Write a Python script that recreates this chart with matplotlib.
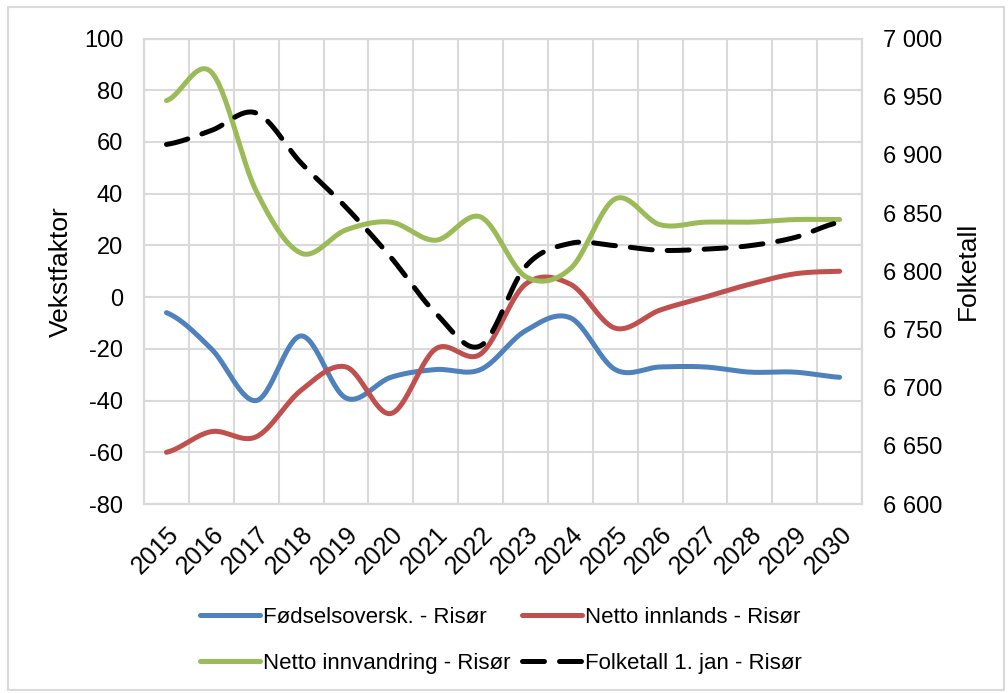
import numpy as np
import matplotlib
matplotlib.use("Agg")
import matplotlib.pyplot as plt
from matplotlib.lines import Line2D
from matplotlib.patches import Rectangle
from matplotlib.ticker import FuncFormatter

years = ["2015", "2016", "2017", "2018", "2019", "2020", "2021", "2022",
         "2023", "2024", "2025", "2026", "2027", "2028", "2029", "2030"]

fodselsoversk = [-6, -20, -40, -15, -39, -31, -28, -28, -13, -8, -28, -27, -27, -29, -29, -31]
netto_innlands = [-60, -52, -54, -36, -27, -45, -20, -22, 5, 5, -12, -5, 0, 5, 9, 10]
netto_innvandring = [76, 87, 41, 17, 26, 29, 22, 31, 8, 11, 38, 28, 29, 29, 30, 30]
folketall = [6909, 6921, 6936, 6893, 6855, 6812, 6764, 6736, 6804, 6824, 6822, 6818, 6819, 6822, 6829, 6842]

BLUE = "#4F81BD"
RED = "#C0504D"
GREEN = "#9BBB59"
GRID = "#D9D9D9"
LW = 3.6
DASH = (4.4, 3.0)


def smooth(y, n=30):
    # Catmull-Rom spline through the points, like Excel's smoothed lines
    y = np.asarray(y, dtype=float)
    p = np.concatenate([[y[0]], y, [y[-1]]])
    xs, ys = [], []
    t = np.linspace(0, 1, n, endpoint=False)
    for i in range(len(y) - 1):
        p0, p1, p2, p3 = p[i], p[i + 1], p[i + 2], p[i + 3]
        seg = 0.5 * ((2 * p1) + (-p0 + p2) * t + (2 * p0 - 5 * p1 + 4 * p2 - p3) * t ** 2
                     + (-p0 + 3 * p1 - 3 * p2 + p3) * t ** 3)
        xs.extend(i + t)
        ys.extend(seg)
    xs.append(len(y) - 1)
    ys.append(y[-1])
    return np.array(xs), np.array(ys)


plt.rcParams['font.family'] = ['Liberation Sans', 'DejaVu Sans']
plt.rcParams['axes.unicode_minus'] = False

fig = plt.figure(figsize=(10.08, 6.93), dpi=100)
fig.patches.append(Rectangle((0.008, 0.004), 0.988, 0.986, transform=fig.transFigure,
                             fill=False, edgecolor=GRID, linewidth=1.5))

ax = fig.add_axes([0.1429, 0.2727, 0.7123, 0.6717])
ax2 = ax.twinx()

x = np.arange(len(years))

for data, color in [(fodselsoversk, BLUE), (netto_innlands, RED), (netto_innvandring, GREEN)]:
    sx, sy = smooth(data)
    ax.plot(sx, sy, color=color, lw=LW, solid_capstyle='round')

sx, sy = smooth(folketall)
ax2.plot(sx, sy, color='black', lw=LW, dashes=DASH, dash_capstyle='round')

ax.set_xlim(-0.5, len(years) - 0.5)
ax.set_ylim(-80, 100)
ax.set_yticks(np.arange(-80, 101, 20))
ax2.set_ylim(6600, 7000)
ax2.set_yticks(np.arange(6600, 7001, 50))
ax2.yaxis.set_major_formatter(FuncFormatter(lambda v, p: f"{int(v):,}".replace(",", " ")))

ax.set_xticks(x)
ax.set_xticklabels(years, rotation=45, ha='right', rotation_mode='anchor')
ax.set_xticks(np.arange(-0.5, len(years), 1), minor=True)
ax.grid(True, which='minor', axis='x', color=GRID, lw=1.5)
ax.grid(True, which='major', axis='y', color=GRID, lw=1.5)
ax.set_axisbelow(True)

for a in (ax, ax2):
    for s in a.spines.values():
        s.set_color(GRID)
        s.set_linewidth(1.5)
    a.tick_params(which='both', length=0, labelsize=17)
ax.tick_params(axis='y', pad=15)
ax.tick_params(axis='x', pad=13, labelsize=18)
ax2.tick_params(axis='y', pad=15)

ax.set_ylabel("Vekstfaktor", fontsize=19, labelpad=8)
ax2.set_ylabel("Folketall", fontsize=19, labelpad=10)

# legend filled column by column, so this order gives the rows of the reference
handles = [
    Line2D([], [], color=BLUE, lw=LW, solid_capstyle='round'),
    Line2D([], [], color=GREEN, lw=LW, solid_capstyle='round'),
    Line2D([], [], color=RED, lw=LW, solid_capstyle='round'),
    Line2D([], [], color='black', lw=LW, dashes=DASH, dash_capstyle='round'),
]
labels = ["Fødselsoversk. - Risør", "Netto innvandring - Risør",
          "Netto innlands - Risør", "Folketall 1. jan - Risør"]
fig.legend(handles, labels, ncol=2, loc='center', bbox_to_anchor=(0.497, 0.076),
           frameon=False, handlelength=2.7, handletextpad=0.15, columnspacing=0.5,
           labelspacing=1.1, prop={'size': 16})

fig.savefig("out.png", dpi=100)
